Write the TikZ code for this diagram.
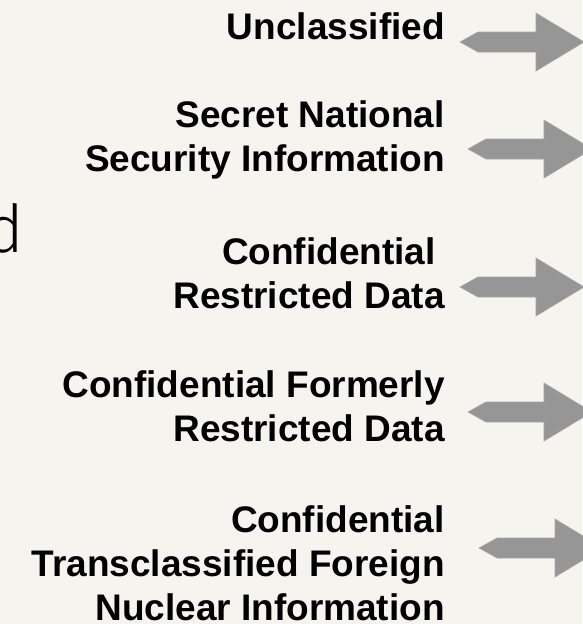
\documentclass[tikz,border=0pt]{standalone}
\usepackage{fontspec}
\setsansfont{Liberation Sans}
\newfontfamily\thinfont{Fira Sans Light}
\definecolor{paper}{RGB}{246,244,238}
\definecolor{arrowgray}{RGB}{150,150,150}
\tikzset{
  class text/.style={font=\sffamily\bfseries\fontsize{37}{44}\selectfont,
    align=right, anchor=base east, inner sep=0pt},
  fat arrow/.style={fill=arrowgray, draw=arrowgray!85!white, line width=0.6pt},
}

\begin{document}
\begin{tikzpicture}[x=1pt, y=-1pt]

  % Page and background
  \fill[paper] (0,0) rectangle (582,624);
  \useasboundingbox (0,0) rectangle (582,624);

  % Word cut by the left edge
  \node[font=\thinfont\fontsize{66}{70}\selectfont, anchor=base east, inner sep=0pt]
    (cutword) at (24,252) {d};

  % Classification labels (base = last line)
  \node[class text] (unclass) at (445,39)  {Unclassified};
  \node[class text] (secret)  at (445,171) {Secret National\\Security Information};
  \node[class text] (crd)     at (445,308) {Confidential\kern9pt\\Restricted Data};
  \node[class text] (cfrd)    at (445,441) {Confidential Formerly\\Restricted Data};
  \node[class text] (tfni)    at (445,620) {Confidential\\Transclassified Foreign\\Nuclear Information};

  % Gray arrows to the right
  \foreach \ax/\ay in {460/42, 468/149, 460/287, 468/412, 479/548} {
    \fill[fat arrow] (\ax,\ay) -- ++(18,-10) -- ++(58,0) -- ++(0,-19)
      -- ++(48,29) -- ++(-48,29) -- ++(0,-19) -- ++(-58,0) -- cycle;
  }

\end{tikzpicture}
\end{document}
